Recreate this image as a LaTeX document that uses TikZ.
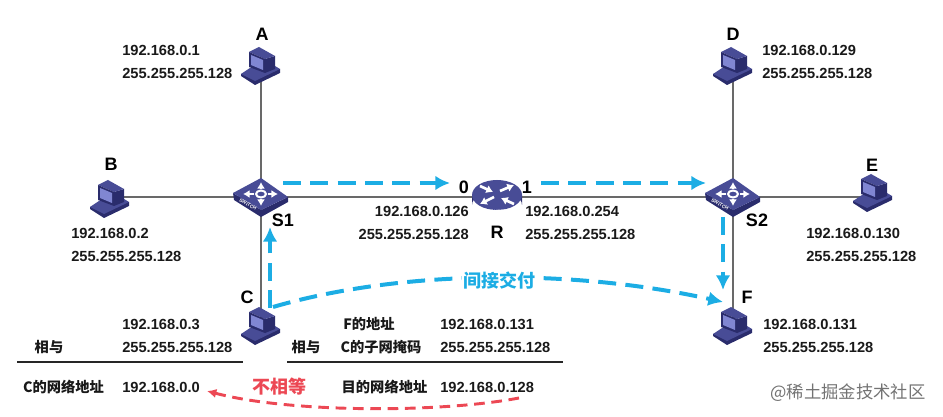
\documentclass[tikz,border=0pt]{standalone}
\usepackage{fontspec}
\setmainfont{Liberation Sans}
\newfontfamily\cjk{Noto Sans CJK SC}
\usetikzlibrary{arrows.meta}
\definecolor{hostblue}{RGB}{72,76,150}
\definecolor{hostdark}{RGB}{42,44,108}
\definecolor{hostlight}{RGB}{128,134,210}
\definecolor{linkgray}{RGB}{105,105,105}
\definecolor{hopblue}{RGB}{28,173,228}
\definecolor{missred}{RGB}{236,72,84}
\tikzset{
  spot/.style={inner sep=0pt,minimum size=2pt},
  link/.style={linkgray,line width=2pt},
  addr/.style={font=\bfseries\fontsize{11}{17}\selectfont,align=left,text=black!90,inner sep=0pt},
  tag/.style={font=\bfseries\fontsize{13.5}{14}\selectfont,inner sep=0pt},
  note/.style={font=\cjk\bfseries\fontsize{10.7}{12}\selectfont,text=black!90,inner sep=0pt},
  rule/.style={black!85,line width=1.3pt},
  hop/.style={hopblue,line width=3pt,dash pattern=on 13.5pt off 7pt,-{Latex[length=11pt,width=11pt]}},
  miss/.style={missred,line width=2.2pt,dash pattern=on 8pt off 5pt,-{Latex[length=7pt,width=7pt]}},
  wing/.style={white,line width=2pt,-{Latex[length=5pt,width=6.5pt]}},
  computer/.pic={
    \fill[hostdark] (-20,8) -- (-20,10) -- (-6,19) -- (19,7) -- (19,3) -- cycle;
    \fill[hostblue] (-20,8) -- (-11,2) -- (14,0) -- (19,3) -- (-6,15) -- cycle;
    \fill[hostdark] (4,-7) -- (14,-10) -- (14,3) -- (4,7) -- cycle;
    \fill[hostblue] (-12,-14) -- (-2,-19) -- (14,-10) -- (4,-7) -- cycle;
    \fill[hostdark] (-12,-14) -- (4,-7) -- (4,7) -- (-12,1) -- cycle;
    \fill[hostlight] (-10,-11) -- (2,-6) -- (2,4) -- (-10,-1) -- cycle;
  },
  switchbox/.pic={
    \fill[hostdark] (-28,-4) -- (0,13) -- (27,0) -- (27,5) -- (0,20) -- (-27,3) -- cycle;
    \fill[hostblue] (-28,-4) -- (0,-19) -- (27,0) -- (0,13) -- cycle;
    \draw[white,line width=1.8pt,{Latex[length=5pt,width=6pt]}-{Latex[length=5pt,width=6pt]}] (-18,-3) -- (17,-3);
    \draw[white,line width=1.8pt,{Latex[length=5pt,width=6pt]}-{Latex[length=5pt,width=6pt]}] (0,-15) -- (0,9);
    \fill[hostblue] (0,-3) ellipse (7 and 5);
    \draw[white,line width=1.5pt] (0,-3) ellipse (5 and 3.5);
    \node[rotate=-29,text=white,font=\bfseries\fontsize{3.6}{4}\selectfont,inner sep=0pt] (swname) at (-13,7.5) {SWITCH};
  },
  routerbox/.pic={
    \fill[hostdark] (-25,-2) -- (-25,8) arc[x radius=25,y radius=14,start angle=180,end angle=360] -- (25,-2) -- cycle;
    \fill[hostblue] (0,-2) ellipse (25 and 15);
    \draw[wing] (-17,-11) -- (-4,-5);
    \draw[wing] (17,7) -- (4,1);
    \draw[wing] (-3,0) -- (-17,7);
    \draw[wing] (3,-6) -- (17,-12);
    \node[text=white,font=\bfseries\fontsize{3.6}{4}\selectfont,inner sep=0pt] (rtname) at (0,15) {ROUTER};
  }
}
\begin{document}
\begin{tikzpicture}[x=0.75pt,y=-0.75pt]
\useasboundingbox (0,0) rectangle (943,417);
% devices
\node[spot] (hostA) at (261,66) {};
\node[spot] (hostB) at (110,197) {};
\node[spot] (hostC) at (261,326) {};
\node[spot] (hostD) at (733,66) {};
\node[spot] (hostE) at (873,197) {};
\node[spot] (hostF) at (733,326) {};
\node[spot] (sw1) at (261,197) {};
\node[spot] (sw2) at (733,197) {};
\node[spot] (rt) at (497,197) {};
\draw[link] (hostA) -- (sw1);
\draw[link] (hostC) -- (sw1);
\draw[link] (hostB) -- (sw1);
\draw[link] (sw1) -- (rt);
\draw[link] (rt) -- (sw2);
\draw[link] (sw2) -- (hostE);
\draw[link] (hostD) -- (sw2);
\draw[link] (hostF) -- (sw2);
\foreach \h in {hostA,hostC,hostD,hostF}
    \pic at (\h) {computer};
\pic at (110,199) {computer};
\pic at (873,193) {computer};
\pic at (sw1) {switchbox};
\pic at (sw2) {switchbox};
\pic at (rt) {routerbox};
% names
\node[tag] (tagA) at (262,34) {A};
\node[tag] (tagB) at (111,164) {B};
\node[tag] (tagC) at (247,297) {C};
\node[tag] (tagD) at (733,34) {D};
\node[tag] (tagE) at (872,165) {E};
\node[tag] (tagF) at (747,297) {F};
\node[tag] (tagS1) at (283,220) {S1};
\node[tag] (tagS2) at (757,220) {S2};
\node[tag] (tagR) at (497,232) {R};
\node[tag] (port0) at (464,187) {0};
\node[tag] (port1) at (527,187) {1};
% addresses
\node[addr,anchor=west] (ipA) at (122,62) {192.168.0.1\\255.255.255.128};
\node[addr,anchor=west] (ipB) at (71,245) {192.168.0.2\\255.255.255.128};
\node[addr,anchor=west] (ipC) at (122,336) {192.168.0.3\\255.255.255.128};
\node[addr,anchor=west] (ipD) at (762,62) {192.168.0.129\\255.255.255.128};
\node[addr,anchor=west] (ipE) at (806,245) {192.168.0.130\\255.255.255.128};
\node[addr,anchor=west] (ipF) at (763,336) {192.168.0.131\\255.255.255.128};
\node[addr,anchor=east,align=right] (ipR0) at (469,223) {192.168.0.126\\255.255.255.128};
\node[addr,anchor=west] (ipR1) at (525,223) {192.168.0.254\\255.255.255.128};
% calculation
\draw[rule] (17,362) -- (243,362);
\draw[rule] (287,362) -- (563,362);
\node[note] (andC) at (49,347) {相与};
\node[note] (andF) at (306,347) {相与};
\node[note] (netC) at (63.5,387) {C的网络地址};
\node[addr,anchor=west] (valC) at (122,387) {192.168.0.0};
\node[note] (addrF) at (369,324) {F的地址};
\node[addr,anchor=west] (valF) at (440,324) {192.168.0.131};
\node[note] (maskC) at (381,347) {C的子网掩码};
\node[addr,anchor=west] (valM) at (440,347) {255.255.255.128};
\node[note] (netF) at (384.5,387) {目的网络地址};
\node[addr,anchor=west] (valN) at (440,387) {192.168.0.128};
% flows
\coordinate (c1) at (283,183);
\coordinate (c2) at (450,183);
\coordinate (c3) at (541,183);
\coordinate (c4) at (706,183);
\coordinate (c5) at (723,217);
\coordinate (c6) at (723,290);
\coordinate (c7) at (270,308);
\coordinate (c8) at (270,227);
\coordinate (c12) at (273,307);
\coordinate (c9) at (723,302);
\coordinate (c10) at (519,398);
\coordinate (c11) at (207,391);
\draw[hop] (c1) -- (c2);
\draw[hop] (c3) -- (c4);
\draw[hop] (c5) -- (c6);
\draw[hop] (c7) -- (c8);
\draw[hop] (c12) .. controls (400,270) and (570,268) .. (c9);
\draw[miss] (c10) .. controls (440,413) and (290,413) .. (c11);
\node[font=\cjk\bfseries\fontsize{13.5}{15}\selectfont,text=hopblue,fill=white,inner sep=1pt] (indirect) at (499,281) {间接交付};
\node[font=\cjk\bfseries\fontsize{13.5}{15}\selectfont,text=missred,inner sep=0pt] (unequal) at (279,387) {不相等};
% watermark
\node[font=\cjk\fontsize{13}{15}\selectfont,text=black!55,inner sep=0pt] (mark) at (848,393) {@稀土掘金技术社区};
\end{tikzpicture}
\end{document}
